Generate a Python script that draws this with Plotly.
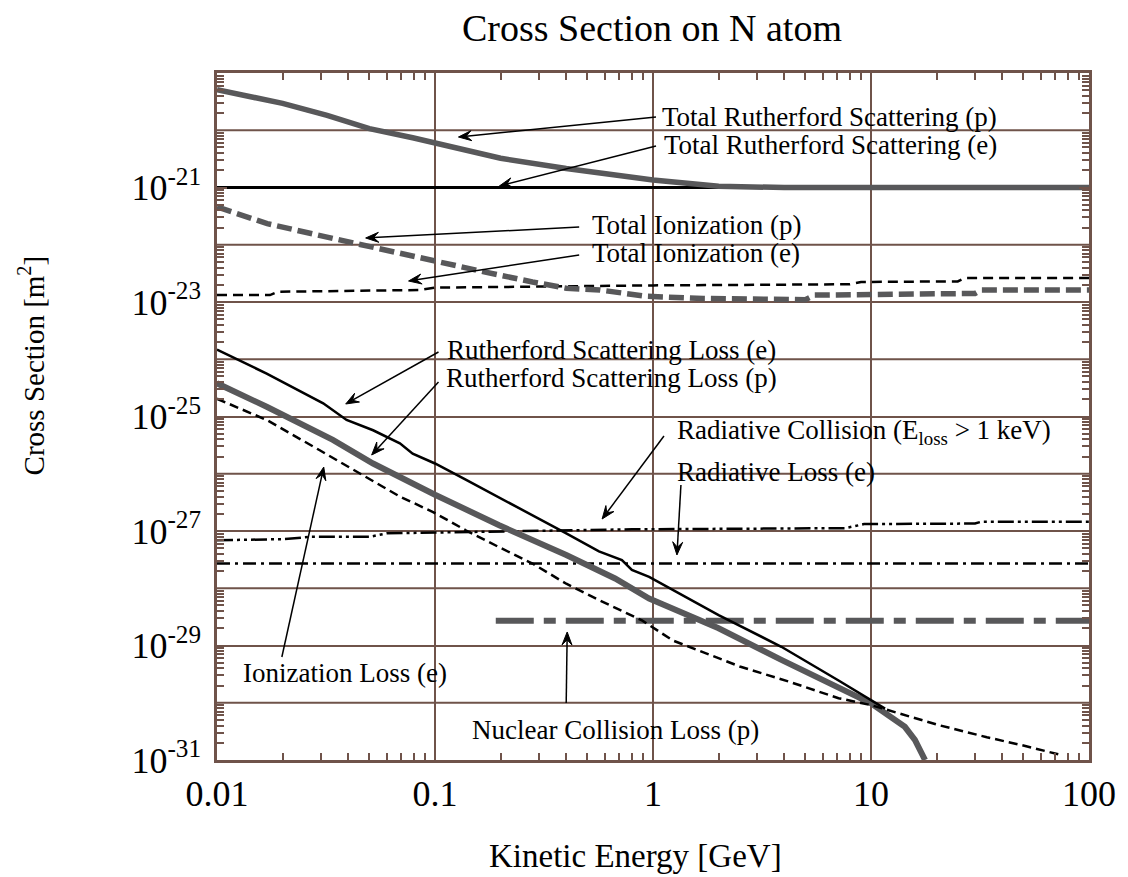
import math
import plotly.graph_objects as go

# ---- data: kinetic energy [GeV] and cross sections [m^2] ----
tr_p_x = [0.01, 0.02, 0.032, 0.05, 0.079, 0.1, 0.2, 0.4, 0.8, 1.0, 2.0, 4.0, 10, 100]
tr_p_y = [5.1e-20, 2.95e-20, 1.82e-20, 1.07e-20, 7.4e-21, 6.0e-21, 3.24e-21, 2.14e-21,
          1.51e-21, 1.35e-21, 1.05e-21, 1.0e-21, 1.0e-21, 1.0e-21]

tr_e_x = [0.01, 0.1, 1, 10, 100]
tr_e_y = [1.0e-21, 1.0e-21, 1.0e-21, 1.0e-21, 1.0e-21]

ti_p_x = [0.01, 0.017, 0.034, 0.06, 0.1, 0.166, 0.28, 0.4, 0.57, 0.93, 1.7, 5.0, 5.5, 30, 32, 100]
ti_p_y = [4.57e-22, 2.34e-22, 1.29e-22, 7.9e-23, 5.0e-23, 3.4e-23, 2.24e-23, 1.74e-23,
          1.62e-23, 1.26e-23, 1.15e-23, 1.10e-23, 1.32e-23, 1.41e-23, 1.62e-23, 1.62e-23]

ti_e_x = [0.01, 0.0175, 0.019, 0.085, 0.1, 1.0, 8.0, 9.0, 25, 27, 100]
ti_e_y = [1.32e-23, 1.32e-23, 1.51e-23, 1.62e-23, 1.78e-23, 1.95e-23, 2.04e-23, 2.24e-23,
          2.29e-23, 2.63e-23, 2.63e-23]

rl_e_x = [0.01, 0.0169, 0.0307, 0.0393, 0.052, 0.069, 0.079, 0.1, 0.139, 0.28, 0.4, 0.565,
          0.72, 0.8, 0.96, 2.0, 3.88, 7.1, 10, 11.6]
rl_e_y = [1.48e-24, 5.6e-25, 1.70e-25, 8.7e-26, 5.75e-26, 3.39e-26, 2.24e-26, 1.51e-26,
          7.8e-27, 1.91e-27, 9.1e-28, 4.4e-28, 3.1e-28, 2.09e-28, 1.58e-28, 3.4e-29,
          9.5e-30, 2.45e-30, 1.12e-30, 7.9e-31]

rl_p_x = [0.01, 0.0169, 0.034, 0.052, 0.1, 0.197, 0.4, 0.67, 0.96, 2.0, 3.88, 7.1, 10,
          14.3, 15.9, 17.7]
rl_p_y = [3.8e-25, 1.48e-25, 3.9e-26, 1.51e-26, 4.3e-27, 1.26e-27, 3.8e-28, 1.48e-28,
          6.6e-29, 2.0e-29, 5.6e-30, 1.78e-30, 9.8e-31, 3.8e-31, 2.24e-31, 1.0e-31]

il_e_x = [0.01, 0.0169, 0.0296, 0.048, 0.069, 0.098, 0.139, 0.197, 0.28, 0.40, 0.566, 0.89,
          1.23, 2.5, 4.2, 7.1, 10, 20.3, 34, 49, 74]
il_e_y = [2.04e-25, 8.7e-26, 2.57e-26, 8.9e-27, 4.0e-27, 2.14e-27, 1.02e-27, 5.2e-28,
          2.7e-28, 1.20e-28, 6.2e-29, 2.75e-29, 1.23e-29, 4.3e-30, 2.34e-30, 1.20e-30,
          9.1e-31, 4.1e-31, 2.5e-31, 1.82e-31, 1.23e-31]

rc_x = [0.01, 0.02, 0.027, 0.05, 0.06, 0.8, 7.6, 9.3, 30, 32, 100]
rc_y = [6.9e-28, 7.2e-28, 7.9e-28, 7.9e-28, 9.1e-28, 1.07e-27, 1.12e-27, 1.32e-27,
        1.35e-27, 1.45e-27, 1.45e-27]

rad_e_x = [0.01, 0.1, 1, 10, 100]
rad_e_y = [2.7e-28, 2.7e-28, 2.7e-28, 2.7e-28, 2.7e-28]

nuc_p_x = [0.19, 1, 10, 100]
nuc_p_y = [2.7e-29, 2.7e-29, 2.7e-29, 2.7e-29]

x_tick_vals = [0.01, 0.1, 1, 10, 100]
x_tick_text = ["0.01", "0.1", "1", "10", "100"]
y_label_exponents = [-31, -29, -27, -25, -23, -21]
y_unlabelled_exponents = [-30, -28, -26, -24, -22, -20]

# ---- styling ----
FONT = "Liberation Serif, Times New Roman, serif"
BROWN = "#6f534a"
GRAY = "#58585a"
BLACK = "#000000"

fig = go.Figure()


def add_line(x, y, color, width, dash="solid"):
    fig.add_trace(go.Scatter(x=x, y=y, mode="lines", showlegend=False,
                             line=dict(color=color, width=width, dash=dash)))


add_line(tr_e_x, tr_e_y, BLACK, 3)
add_line(ti_e_x, ti_e_y, BLACK, 2.5, "10px,6px")
add_line(ti_p_x, ti_p_y, GRAY, 5.5, "15px,6px")
add_line(tr_p_x, tr_p_y, GRAY, 5.5)
add_line(rad_e_x, rad_e_y, BLACK, 2.5, "13px,5px,3px,5px")
add_line(rc_x, rc_y, BLACK, 2.5, "16px,4px,3px,4px,3px,4px")
add_line(nuc_p_x, nuc_p_y, GRAY, 6, "38px,10px,12px,10px")
add_line(rl_p_x, rl_p_y, GRAY, 6)
add_line(rl_e_x, rl_e_y, BLACK, 2.5)
add_line(il_e_x, il_e_y, BLACK, 2.5, "9px,5px")

# grid lines for the decades that carry no label
for e in y_unlabelled_exponents:
    fig.add_shape(type="line", xref="paper", yref="y", x0=0, x1=1,
                  y0=10.0 ** e, y1=10.0 ** e, layer="below",
                  line=dict(color=BROWN, width=2))

# ---- plot area geometry (pixels) used for label placement ----
W, H = 1128, 877
PL, PR, PT, PB = 217, 1091, 73, 760


def px(xp):
    return (xp - PL) / (PR - PL)


def py(yp):
    return (PB - yp) / (PB - PT)


# curve labels: (text, left x, middle y)
labels = [
    ("Total Rutherford Scattering (p)", 661, 117),
    ("Total Rutherford Scattering (e)", 663, 145),
    ("Total Ionization (p)", 591, 225),
    ("Total Ionization (e)", 591, 253),
    ("Rutherford Scattering Loss (e)", 446, 350),
    ("Rutherford Scattering Loss (p)", 445, 378),
    ("Radiative Collision (E<sub>loss</sub> > 1 keV)", 676, 432),
    ("Radiative Loss (e)", 676, 472),
    ("Ionization Loss (e)", 241, 673),
    ("Nuclear Collision Loss (p)", 471, 730),
]
for text, lx, ly in labels:
    fig.add_annotation(text=text, x=px(lx), y=py(ly), xref="paper", yref="paper",
                       xanchor="left", yanchor="middle", showarrow=False,
                       font=dict(family=FONT, size=27, color=BLACK))

# pointer arrows from labels to curves: (tail x, tail y, head x, head y)
arrows = [
    (657, 117, 459, 137),
    (657, 146, 500, 186),
    (580, 227, 366, 238),
    (580, 255, 409, 281),
    (439, 352, 346, 404),
    (439, 382, 372, 455),
    (665, 436, 603, 519),
    (682, 485, 678, 555),
    (282, 657, 324, 467),
    (567, 703, 568, 632),
]
HEAD_LEN, HEAD_HALF, NOTCH = 13.0, 5.0, 0.6
for tx, ty, hx, hy in arrows:
    dx, dy = hx - tx, hy - ty
    n = math.hypot(dx, dy)
    ux, uy = dx / n, dy / n
    vx, vy = -uy, ux
    bx, by = hx - HEAD_LEN * ux, hy - HEAD_LEN * uy
    mx, my = hx - NOTCH * HEAD_LEN * ux, hy - NOTCH * HEAD_LEN * uy
    fig.add_shape(type="line", xref="paper", yref="paper",
                  x0=px(tx), y0=py(ty), x1=px(mx), y1=py(my),
                  line=dict(color=BLACK, width=1.5))
    pts = [(hx, hy), (bx + HEAD_HALF * vx, by + HEAD_HALF * vy), (mx, my),
           (bx - HEAD_HALF * vx, by - HEAD_HALF * vy)]
    path = "M " + " L ".join("%.5f,%.5f" % (px(a), py(b)) for a, b in pts) + " Z"
    fig.add_shape(type="path", path=path, xref="paper", yref="paper",
                  fillcolor=BLACK, line=dict(color=BLACK, width=1))

# axis titles
fig.add_annotation(text="Kinetic Energy [GeV]", x=px(636), y=py(856), xref="paper",
                   yref="paper", showarrow=False, xanchor="center", yanchor="middle",
                   font=dict(family=FONT, size=33, color=BLACK))
fig.add_annotation(text="Cross Section [m<sup>2</sup>]", x=px(31), y=py(365),
                   xref="paper", yref="paper", showarrow=False, textangle=-90,
                   xanchor="center", yanchor="middle",
                   font=dict(family=FONT, size=29, color=BLACK))

minor_x = [k * 10.0 ** e for e in range(-2, 2) for k in range(2, 10)]
minor_y = [k * 10.0 ** e for e in range(-31, -19) for k in range(2, 10)]

axis_common = dict(
    showline=True, linecolor=BROWN, linewidth=2.5, mirror="allticks",
    ticks="inside", ticklen=10, tickwidth=2, tickcolor=BROWN,
    showgrid=True, gridcolor=BROWN, gridwidth=2, zeroline=False,
    tickfont=dict(family=FONT, size=36, color=BLACK),
)

fig.update_layout(
    width=W, height=H,
    margin=dict(l=PL, r=W - PR, t=PT, b=H - PB),
    paper_bgcolor="white", plot_bgcolor="white",
    title=dict(text="Cross Section on N atom", x=px(653), xref="paper",
               y=1 - 28 / H, yref="container", xanchor="center", yanchor="middle",
               font=dict(family=FONT, size=38, color=BLACK)),
    xaxis=dict(type="log", range=[-2, 2], tickmode="array", tickvals=x_tick_vals,
               ticktext=x_tick_text,
               minor=dict(tickmode="array", tickvals=minor_x, ticks="inside",
                          ticklen=7, tickwidth=1.5, tickcolor=BROWN, showgrid=False),
               **axis_common),
    yaxis=dict(type="log", range=[-31, -19], tickmode="array",
               tickvals=[10.0 ** e for e in y_label_exponents],
               ticktext=["10<sup>%d</sup>" % e for e in y_label_exponents],
               ticklabelstandoff=6,
               minor=dict(tickmode="array", tickvals=minor_y, ticks="inside",
                          ticklen=7, tickwidth=1.5, tickcolor=BROWN, showgrid=False),
               **axis_common),
)

fig.write_html("out.html")
